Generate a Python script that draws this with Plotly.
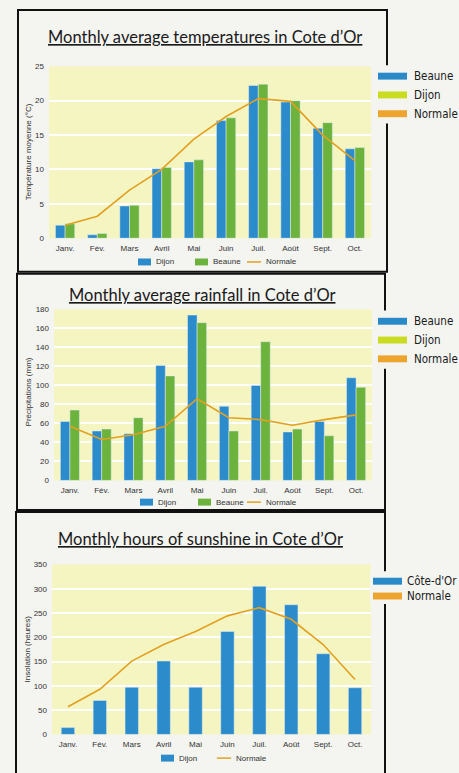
import plotly.graph_objects as go

W, H = 459, 773


def px(x):
    return x / W


def py(y):
    return 1 - y / H


# ---------------- data ----------------
months = ["Janv.", "Fév.", "Mars", "Avril", "Mai", "Juin", "Juil.", "Août", "Sept.", "Oct."]

temp_dijon = [1.9, 0.5, 4.7, 10.1, 11.1, 17.1, 22.2, 19.8, 16.0, 13.0]
temp_beaune = [2.1, 0.7, 4.8, 10.3, 11.4, 17.5, 22.4, 20.0, 16.8, 13.2]
temp_normale = [1.9, 3.2, 7.0, 10.0, 14.4, 17.7, 20.3, 19.9, 15.0, 11.3]

rain_dijon = [62, 52, 49, 121, 174, 78, 100, 51, 62, 108]
rain_beaune = [74, 54, 66, 110, 166, 52, 146, 54, 47, 98]
rain_normale = [57, 43, 48, 57, 86, 66, 64, 58, 64, 69]

sun_dijon = [14, 70, 97, 151, 97, 212, 305, 267, 166, 96]
sun_normale = [57, 93, 151, 185, 212, 244, 261, 237, 185, 113]

titles = [
    "Monthly average temperatures in Cote d’Or",
    "Monthly average rainfall in Cote d’Or",
    "Monthly hours of sunshine in Cote d’Or",
]
ytitles = ["Température moyenne (°C)", "Précipitations (mm)", "Insolation (heures)"]

# ---------------- styles ----------------
BLUE = "#2b8bcb"
GREEN = "#6cb33e"
ORANGE = "#e2a020"
PLOTBG = "#f5f5c2"
PAGE = "#f4f4f1"
TXT = "#333333"
TICKFONT = dict(family="Liberation Sans, Arial", size=8, color=TXT)
TITLEFONT = dict(family="Lato, Open Sans", size=16.5, color="#1a1a1a")
SIDEFONT = dict(family="DejaVu Sans, Arial", size=11.5, color="#1a1a1a")

fig = go.Figure()

# Panel 1 - temperatures
fig.add_trace(go.Bar(x=months, y=temp_dijon, name="Dijon", marker_color=BLUE,
                     offset=-0.3, width=0.3, xaxis="x", yaxis="y", showlegend=False))
fig.add_trace(go.Bar(x=months, y=temp_beaune, name="Beaune", marker_color=GREEN,
                     offset=0.0, width=0.3, xaxis="x", yaxis="y", showlegend=False))
fig.add_trace(go.Scatter(x=months, y=temp_normale, name="Normale", mode="lines",
                         line=dict(color=ORANGE, width=1.6), xaxis="x", yaxis="y", showlegend=False))

# Panel 2 - rainfall
fig.add_trace(go.Bar(x=months, y=rain_dijon, name="Dijon", marker_color=BLUE,
                     offset=-0.3, width=0.3, xaxis="x2", yaxis="y2", showlegend=False))
fig.add_trace(go.Bar(x=months, y=rain_beaune, name="Beaune", marker_color=GREEN,
                     offset=0.0, width=0.3, xaxis="x2", yaxis="y2", showlegend=False))
fig.add_trace(go.Scatter(x=months, y=rain_normale, name="Normale", mode="lines",
                         line=dict(color=ORANGE, width=1.6), xaxis="x2", yaxis="y2", showlegend=False))

# Panel 3 - sunshine
fig.add_trace(go.Bar(x=months, y=sun_dijon, name="Dijon", marker_color=BLUE,
                     offset=-0.21, width=0.42, xaxis="x3", yaxis="y3", showlegend=False))
fig.add_trace(go.Scatter(x=months, y=sun_normale, name="Normale", mode="lines",
                         line=dict(color=ORANGE, width=1.6), xaxis="x3", yaxis="y3", showlegend=False))

panels = [
    dict(xd=(49, 371), yd=(63, 237), rng=[0, 25], dtick=5),
    dict(xd=(54, 372), yd=(309, 482), rng=[0, 180], dtick=20),
    dict(xd=(52, 371), yd=(567, 739), rng=[0, 350], dtick=50),
]

layout = dict(
    width=W, height=H,
    margin=dict(l=0, r=0, t=0, b=0),
    paper_bgcolor=PAGE,
    plot_bgcolor=PLOTBG,
    barmode="overlay",
    showlegend=False,
)

for i, p in enumerate(panels):
    sfx = "" if i == 0 else str(i + 1)
    layout["xaxis" + sfx] = dict(
        domain=[px(p["xd"][0]), px(p["xd"][1])],
        anchor="y" + sfx, type="category",
        showgrid=False, showline=False, zeroline=False, ticks="",
        tickfont=TICKFONT, ticklabelstandoff=4, fixedrange=True,
    )
    layout["yaxis" + sfx] = dict(
        domain=[py(p["yd"][1]), py(p["yd"][0])],
        anchor="x" + sfx, range=p["rng"], dtick=p["dtick"],
        showgrid=True, gridcolor="#ffffff", gridwidth=1.5,
        showline=False, zeroline=False, ticks="",
        tickfont=TICKFONT, ticklabelstandoff=4, fixedrange=True,
    )

fig.update_layout(**layout)

shapes = []
annotations = []

# panel borders
borders = [(18, 6, 387, 271), (17, 273, 385, 512), (16, 514, 385, 790)]
for (x0, y0, x1, y1) in borders:
    shapes.append(dict(type="rect", xref="paper", yref="paper",
                       x0=px(x0), x1=px(x1), y0=py(y1), y1=py(y0),
                       line=dict(color="#111111", width=2), fillcolor="rgba(0,0,0,0)", layer="above"))

# titles
title_pos = [(205, 33), (202, 294), (200, 541)]
for t, (x, y) in zip(titles, title_pos):
    annotations.append(dict(text="<u>" + t + "</u>", x=px(x), y=py(y), xref="paper", yref="paper",
                            showarrow=False, xanchor="center", yanchor="middle", font=TITLEFONT))

# y axis titles
ytitle_pos = [(28, 150), (28, 393), (27, 653)]
for t, (x, y) in zip(ytitles, ytitle_pos):
    annotations.append(dict(text=t, x=px(x), y=py(y), xref="paper", yref="paper", textangle=-90,
                            showarrow=False, xanchor="center", yanchor="middle",
                            font=dict(family="Liberation Sans, Arial", size=8, color=TXT)))

# side legends (box hides border)
side_boxes = [(376, 62, 452, 121), (374, 310, 452, 369), (370, 574, 456, 607)]
for (x0, y0, x1, y1) in side_boxes:
    shapes.append(dict(type="rect", xref="paper", yref="paper",
                       x0=px(x0), x1=px(x1), y0=py(y1), y1=py(y0),
                       line=dict(width=0), fillcolor=PAGE, layer="above"))

side_items = [
    [("Beaune", "#2a8ac8", 378, 412, 73), ("Dijon", "#c9dc22", 378, 412, 92), ("Normale", "#eea52e", 378, 412, 111)],
    [("Beaune", "#2a8ac8", 378, 412, 321), ("Dijon", "#c9dc22", 378, 412, 340), ("Normale", "#eea52e", 378, 412, 359)],
    [("Côte-d'Or", "#2a8ac8", 373, 405, 584), ("Normale", "#eea52e", 373, 405, 599)],
]
for items in side_items:
    for (label, col, xp, xt, y) in items:
        shapes.append(dict(type="rect", xref="paper", yref="paper",
                           x0=px(xp), x1=px(xp + 29), y0=py(y + 3.5), y1=py(y - 3.5),
                           line=dict(width=0), fillcolor=col, layer="above"))
        annotations.append(dict(text='<span style="font-stretch:condensed">' + label + '</span>',
                                x=px(xt), y=py(y), xref="paper", yref="paper",
                                showarrow=False, xanchor="left", yanchor="middle", font=SIDEFONT))

# bottom legends
LEGFONT = dict(family="Liberation Sans, Arial", size=8, color=TXT)
bottom_items = [
    [("bar", "Dijon", BLUE, 138, 261), ("bar", "Beaune", GREEN, 195, 261), ("line", "Normale", ORANGE, 247, 261)],
    [("bar", "Dijon", BLUE, 140, 504), ("bar", "Beaune", GREEN, 198, 504), ("line", "Normale", ORANGE, 247, 504)],
    [("bar", "Dijon", BLUE, 161, 763), ("line", "Normale", ORANGE, 217, 763)],
]
for items in bottom_items:
    for (kind, label, col, x, y) in items:
        if kind == "bar":
            shapes.append(dict(type="rect", xref="paper", yref="paper",
                               x0=px(x), x1=px(x + 13), y0=py(y + 3.5), y1=py(y - 3.5),
                               line=dict(width=0), fillcolor=col, layer="above"))
            tx = x + 16
        else:
            shapes.append(dict(type="line", xref="paper", yref="paper",
                               x0=px(x), x1=px(x + 14), y0=py(y), y1=py(y),
                               line=dict(color=col, width=1.5), layer="above"))
            tx = x + 17
        annotations.append(dict(text=label, x=px(tx), y=py(y), xref="paper", yref="paper",
                                showarrow=False, xanchor="left", yanchor="middle", font=LEGFONT))

fig.update_layout(shapes=shapes, annotations=annotations)

fig.write_html("out.html")
